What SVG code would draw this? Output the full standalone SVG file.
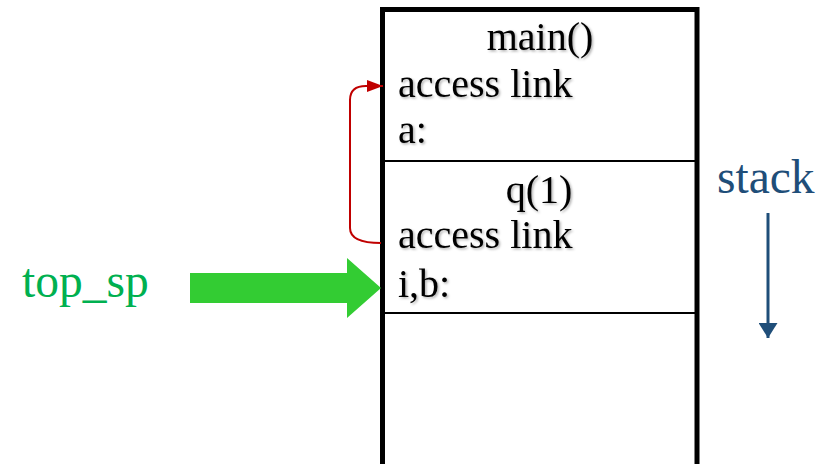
<svg xmlns="http://www.w3.org/2000/svg" width="833" height="464" viewBox="0 0 833 464">
<defs>
<style>
.t{font-family:"Liberation Serif","Times New Roman",serif;font-size:40px;fill:#000;}
.sh{filter:url(#shadow);}
</style>
<filter id="shadow" x="-10%" y="-20%" width="130%" height="150%">
<feDropShadow dx="1.5" dy="1.5" stdDeviation="0.8" flood-color="#000" flood-opacity="0.3"/>
</filter>
<marker id="redHead" markerWidth="16" markerHeight="12" refX="16" refY="6" orient="auto" markerUnits="userSpaceOnUse" viewBox="0 0 16 12">
<path d="M0,0 L16,6 L0,12 Z" fill="#C00000"/>
</marker>
<marker id="blueHead" markerWidth="15" markerHeight="19" refX="15" refY="9.5" orient="auto" markerUnits="userSpaceOnUse" viewBox="0 0 15 19">
<path d="M0,0 L15,9.5 L0,19 Z" fill="#1F4E79"/>
</marker>
</defs>
<rect width="833" height="464" fill="#fff"/>
<g id="stack-frame">
<rect x="382.5" y="9.5" width="314.5" height="470" fill="none" stroke="#000" stroke-width="5"/>
<line x1="382" y1="161" x2="697" y2="161" stroke="#000" stroke-width="2"/>
<line x1="382" y1="313" x2="697" y2="313" stroke="#000" stroke-width="2"/>
</g>
<g id="main-frame" class="sh">
<text class="t" x="540" y="50" text-anchor="middle">main()</text>
<text class="t" x="398" y="97">access link</text>
<text class="t" x="398" y="143">a:</text>
</g>
<g id="q-frame" class="sh">
<text class="t" x="539" y="203" text-anchor="middle">q(1)</text>
<text class="t" x="398" y="248">access link</text>
<text class="t" x="398" y="297">i,b:</text>
</g>
<g id="top-sp">
<text x="22" y="297" font-family="Liberation Serif, serif" font-size="47.5" fill="#00B050">top_sp</text>
</g>
<g id="stack-label">
<text x="717" y="193" font-family="Liberation Serif, serif" font-size="47.5" fill="#1F4E79">stack</text>
</g>
<g id="connectors">
<path d="M381,243 Q350,243 350,228 L350,100 Q350,86 366,86 L383,86" fill="none" stroke="#C00000" stroke-width="2" marker-end="url(#redHead)"/>
<polygon points="190,273 347,273 347,258 381,288 347,318 347,303 190,303" fill="#33CC33"/>
<line x1="768" y1="213" x2="768" y2="338" stroke="#1F4E79" stroke-width="3" marker-end="url(#blueHead)"/>
</g>
</svg>
